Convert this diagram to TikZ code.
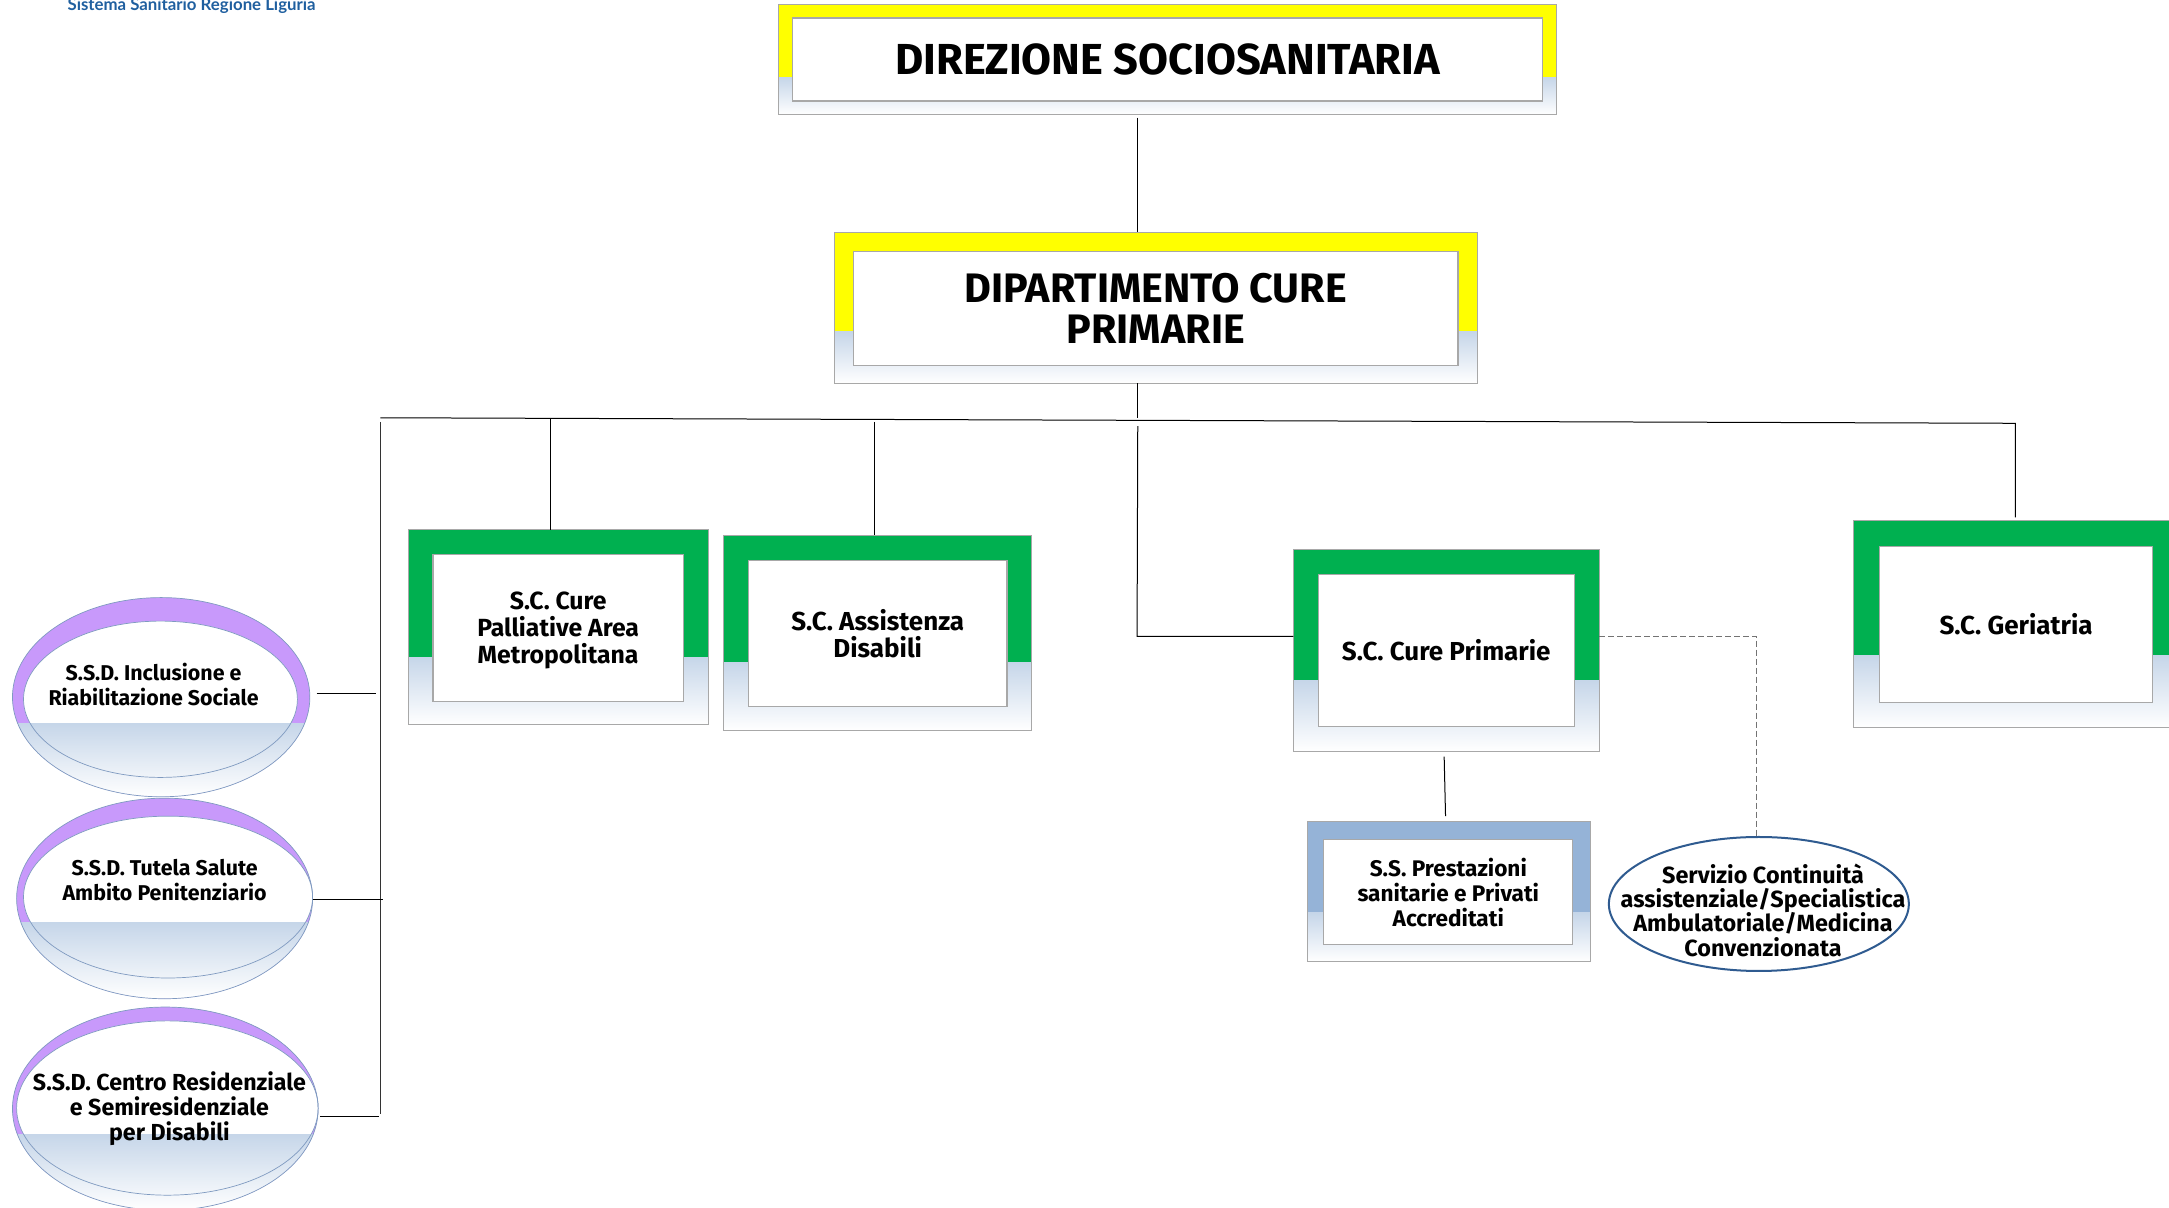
\documentclass[tikz,border=0pt]{standalone}
\usepackage{fontspec}
\setmainfont{Fira Sans}[BoldFont={Fira Sans Bold}]
\newfontfamily\logofont{Lato}[BoldFont={Lato Bold}]
\usetikzlibrary{shapes.geometric}
\definecolor{palegrad}{HTML}{C6D6E9}
\definecolor{midgrad}{HTML}{F3F6FA}
\definecolor{topyellow}{HTML}{FFFF00}
\definecolor{scgreen}{HTML}{00B050}
\definecolor{ssblue}{HTML}{95B3D7}
\definecolor{ssdpurple}{HTML}{C899FB}
\definecolor{edgegray}{HTML}{A8A8A8}
\definecolor{ovaledge}{HTML}{7F9AC0}
\definecolor{servedge}{HTML}{2F5B90}
\definecolor{logoblue}{HTML}{1F5F9F}
\tikzset{
  fadeband/.style={top color=palegrad,middle color=midgrad,bottom color=white},
  outerbox/.style={draw=edgegray,line width=0.45pt,fill=none,inner sep=0pt,outer sep=0pt},
  innerbox/.style={draw=edgegray,line width=0.55pt,fill=white,inner sep=0pt,outer sep=0pt,align=center},
  ovalbase/.style={ellipse,inner sep=0pt,outer sep=0pt},
  ovalline/.style={draw=ovaledge,line width=0.35pt},
  ovaltext/.style={align=center,inner sep=0pt,font=\fontsize{10.7}{12.5}\selectfont\bfseries},
  conn/.style={draw=black,line width=0.5pt},
  spine/.style={draw=black!80,line width=0.8pt},
  dashconn/.style={draw=black!55,line width=0.45pt,dash pattern=on 3pt off 1.5pt}
}
% name x0 y0 x1 y1 split colour
\newcommand{\orgouter}[7]{%
  \fill[#7] (#2,#3) rectangle (#4,#6);
  \shade[fadeband] (#2,#6) rectangle (#4,#5);
  \pgfmathsetmacro\boxw{(#4-#2)*0.6917}
  \pgfmathsetmacro\boxh{(#5-#3)*0.6917}
  \node[outerbox,minimum width=\boxw pt,minimum height=\boxh pt] (#1) at ({(#2+#4)/2},{(#3+#5)/2}) {};
}
% name x0 y0 x1 y1 size baseline text
\newcommand{\orginner}[8]{%
  \pgfmathsetmacro\boxw{(#4-#2)*0.6917}
  \pgfmathsetmacro\boxh{(#5-#3)*0.6917}
  \node[innerbox,font=\fontsize{#6}{#7}\selectfont\bfseries,minimum width=\boxw pt,minimum height=\boxh pt] (#1) at ({(#2+#4)/2},{(#3+#5)/2}) {#8};
}
\begin{document}
\begin{tikzpicture}[x=0.6917pt,y=-0.6917pt]
\useasboundingbox (0,0) rectangle (1568,872.6);
\clip (0,0) rectangle (1568,872.6);

\node[font=\logofont\bfseries\fontsize{8.4}{10}\selectfont,text=logoblue,inner sep=0pt] (logo) at (138.5,4) {Sistema Sanitario Regione Liguria};

% boxes
\orgouter{dir}{563}{3}{1125}{83}{56}{topyellow}
\orginner{dirin}{573}{13}{1115}{73}{21.7}{24}{DIREZIONE SOCIOSANITARIA}
\orgouter{dip}{603}{168}{1068}{277}{240}{topyellow}
\orginner{dipin}{617}{182}{1054}{264}{20.6}{20.2}{DIPARTIMENTO CURE\\PRIMARIE}
\orgouter{pal}{295}{383}{512}{524}{475}{scgreen}
\orginner{palin}{313}{401}{494}{507}{12.4}{13.6}{\rule{0pt}{11pt}S.C. Cure\\Palliative Area\\Metropolitana}
\orgouter{ass}{523}{387}{746}{528}{479}{scgreen}
\orginner{assin}{541}{405}{728}{511}{13}{13.6}{S.C. Assistenza\\Disabili}
\orgouter{cure}{935}{397}{1156}{543}{492}{scgreen}
\orginner{curein}{953}{415}{1138}{525}{13}{13.6}{S.C. Cure Primarie}
\orgouter{ger}{1340}{376}{1576}{526}{474}{scgreen}
\orginner{gerin}{1359}{395}{1556}{508}{13}{13.6}{S.C. Geriatria}
\orgouter{ss}{945}{594}{1150}{695}{660}{ssblue}
\orginner{ssin}{957}{607}{1137}{683}{11.3}{12.5}{S.S. Prestazioni\\sanitarie e Privati\\Accreditati}

% ovals: outer purple, inner white, then the pale band over both
\node[ovalbase,fill=ssdpurple,minimum width=148.7pt,minimum height=99.6pt] (ovA) at (116.5,504) {};
\node[ovalbase,fill=white,minimum width=137pt,minimum height=78.2pt] (ovAin) at (116,505.5) {};
\begin{scope}
  \clip (116.5,504) ellipse [x radius=107.5,y radius=72];
  \shade[fadeband] (0,523) rectangle (240,576);
\end{scope}
\draw[ovalline] (ovAin.center) ellipse [x radius=99,y radius=56.5];
\draw[ovalline] (ovA.center) ellipse [x radius=107.5,y radius=72];

\node[ovalbase,fill=ssdpurple,minimum width=148pt,minimum height=100.3pt] (ovB) at (119,649.5) {};
\node[ovalbase,fill=white,minimum width=144.6pt,minimum height=81pt] (ovBin) at (121.5,648.5) {};
\begin{scope}
  \clip (119,649.5) ellipse [x radius=107,y radius=72.5];
  \shade[fadeband] (0,667) rectangle (240,722);
\end{scope}
\draw[ovalline] (ovBin.center) ellipse [x radius=104.5,y radius=58.5];
\draw[ovalline] (ovB.center) ellipse [x radius=107,y radius=72.5];

\node[ovalbase,fill=ssdpurple,minimum width=152.9pt,minimum height=101.7pt] (ovC) at (119.5,801.5) {};
\node[ovalbase,fill=white,minimum width=150.8pt,minimum height=87.2pt] (ovCin) at (121,801) {};
\begin{scope}
  \clip (119.5,801.5) ellipse [x radius=110.5,y radius=73.5];
  \shade[fadeband] (0,820) rectangle (240,875);
\end{scope}
\draw[ovalline] (ovCin.center) ellipse [x radius=109,y radius=63];
\draw[ovalline] (ovC.center) ellipse [x radius=110.5,y radius=73.5];

\node[ovaltext] (ovAt) at (111,494.5) {S.S.D. Inclusione e\\Riabilitazione Sociale};
\node[ovaltext] (ovBt) at (119,636) {S.S.D. Tutela Salute\\Ambito Penitenziario};
\node[ovaltext,font=\fontsize{11.6}{12.5}\selectfont\bfseries] (ovCt) at (122.5,801.5) {S.S.D. Centro Residenziale\\e Semiresidenziale\\per Disabili};

\node[ellipse,draw=servedge,line width=1pt,fill=white,inner sep=0pt,outer sep=0pt,minimum width=150pt,minimum height=67pt] (serv) at (1271.5,653.5) {};
\node[align=center,inner sep=0pt,font=\fontsize{11.7}{12.2}\selectfont\bfseries] (servt) at (1274.5,658) {Servizio Continuità\\assistenziale/Specialistica\\Ambulatoriale/Medicina\\Convenzionata};

% junctions
\coordinate (trunk) at (822,302);
\coordinate (busL) at (275,302);
\coordinate (busR) at (1457,306);
\coordinate (spT) at (275,305);
\coordinate (spB) at (275,805);
\coordinate (dropA) at (398,303);
\coordinate (dropB) at (632.5,305);
\coordinate (midT) at (822.5,308);
\coordinate (midK) at (822,460);
\coordinate (dashK) at (1270,460);
\coordinate (stubA) at (272,501);
\coordinate (stubB) at (277,650);
\coordinate (stubC) at (274,807);
\coordinate (subT) at (1044,547);
\coordinate (subB) at (1045,590);

\draw[conn] ([yshift=-1.4pt]trunk |- dir.south) -- (trunk |- dip.north);
\draw[conn] (trunk |- dip.south) -- (trunk);
\draw[conn] (busL) -- (busR) -- ([yshift=1.4pt]busR |- ger.north);
\draw[spine] (spT) -- (spB);
\draw[conn] (dropA) -- (dropA |- pal.north);
\draw[conn] (dropB) -- (dropB |- ass.north);
\draw[conn] (midT) -- (midK) -- (midK -| cure.west);
\draw[conn] (subT) -- (subB);
\draw[dashconn] (dashK -| cure.east) -- (dashK) -- (dashK |- serv.north);
\draw[conn] ([xshift=3.4pt]stubA -| ovA.east) -- (stubA);
\draw[conn] (stubB -| ovB.east) -- (stubB);
\draw[conn] ([xshift=0.8pt]stubC -| ovC.east) -- (stubC);
\end{tikzpicture}
\end{document}
